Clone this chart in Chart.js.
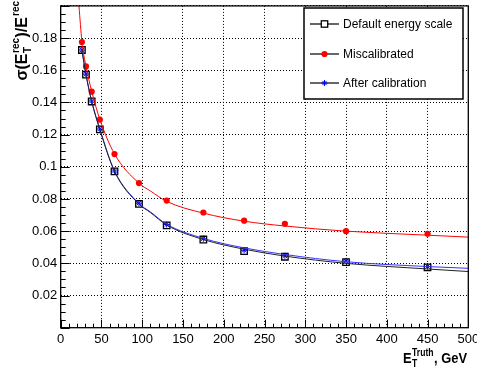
<!DOCTYPE html>
<html>
<head>
<meta charset="utf-8">
<script src="https://cdn.jsdelivr.net/npm/chart.js@4.4.0/dist/chart.umd.min.js"></script>
<style>
html, body { margin: 0; padding: 0; background: #fff; }
canvas { display: block; }
</style>
</head>
<body>
<canvas id="c" width="477" height="371"></canvas>
<script>
// measured points
const pointX = [26, 31, 38, 48, 66, 96, 130, 175, 225, 275, 350, 450];
const defaultScale = [0.1726, 0.1573, 0.1406, 0.1232, 0.0971, 0.0770, 0.0636, 0.0548, 0.0476, 0.0441, 0.0408, 0.0375];
const miscalibrated = [0.1775, 0.1624, 0.1467, 0.1293, 0.1079, 0.0899, 0.0790, 0.0716, 0.0665, 0.0646, 0.0600, 0.0584];
const afterCalib = [0.1726, 0.1576, 0.1409, 0.1235, 0.0974, 0.0774, 0.0641, 0.0553, 0.0481, 0.0447, 0.0415, 0.0380];

// fitted curves
const fitX = [22.4, 26, 31, 38, 48, 66, 96, 110, 130, 175, 225, 275, 350, 450, 500];
const redFit = [0.2, 0.178, 0.1625, 0.147, 0.1295, 0.108, 0.0898, 0.0850, 0.0785, 0.0712, 0.0662, 0.0632, 0.0600, 0.0575, 0.0563];
const blackFit = [null, 0.1726, 0.1573, 0.1406, 0.1232, 0.0971, 0.0768, 0.0716, 0.0638, 0.0548, 0.0488, 0.0445, 0.0400, 0.0365, 0.0349];
const blueFit = [null, 0.1726, 0.1575, 0.1408, 0.1235, 0.0975, 0.0772, 0.0720, 0.0643, 0.0555, 0.0496, 0.0455, 0.0410, 0.0380, 0.0369];

const xTicksStep = 50;
const yTicksStep = 0.02;
const legendLabels = ['Default energy scale', 'Miscalibrated', 'After calibration'];

const FONT = "'Liberation Sans', Arial, Helvetica, sans-serif";

function pairs(xs, ys) {
    const out = [];
    xs.forEach((x, i) => { if (ys[i] !== null) out.push({ x: x, y: ys[i] }); });
    return out;
}

function curve(data, color) {
    return {
        data: data,
        showLine: true,
        borderColor: color,
        borderWidth: 1,
        pointRadius: 0,
        cubicInterpolationMode: 'monotone',
        fill: false
    };
}

const markerSets = [
    { data: pairs(pointX, defaultScale), showLine: false, pointStyle: 'rect', pointRadius: 4.6, borderColor: '#000', borderWidth: 1.3, backgroundColor: 'rgba(0,0,0,0)' },
    { data: pairs(pointX, miscalibrated), showLine: false, pointStyle: 'circle', pointRadius: 3.1, borderColor: '#ff0000', borderWidth: 0, backgroundColor: '#ff0000' },
    { data: pairs(pointX, afterCalib), showLine: false, pointStyle: 'star', pointRadius: 3, borderColor: '#0000ff', borderWidth: 1, backgroundColor: '#0000ff' }
];

function line(ctx, x1, y1, x2, y2) {
    ctx.beginPath();
    ctx.moveTo(x1, y1);
    ctx.lineTo(x2, y2);
    ctx.stroke();
}

const decorPlugin = {
    id: 'decor',
    afterDraw(chart) {
        const ctx = chart.ctx;
        const xs = chart.scales.x, ys = chart.scales.y;
        const { left, right, top, bottom } = chart.chartArea;
        ctx.save();
        ctx.strokeStyle = '#000';
        ctx.lineWidth = 1;
        // inward ticks
        for (let v = 0; v <= 500; v += 10) {
            const px = Math.round(xs.getPixelForValue(v)) + 0.5;
            const len = v % 50 === 0 ? 8 : 4;
            line(ctx, px, bottom, px, bottom - len);
        }
        for (let i = 0; i <= 40; i++) {
            const py = Math.round(ys.getPixelForValue(i * 0.005)) + 0.5;
            const len = i % 4 === 0 ? 9 : 5;
            line(ctx, left, py, left + len, py);
        }
        // frame
        ctx.lineWidth = 1.3;
        ctx.strokeRect(left, top, right - left, bottom - top);

        // legend
        const lx = 304, ly = 8, lw = 159, lh = 91;
        ctx.fillStyle = '#fff';
        ctx.fillRect(lx, ly, lw, lh);
        ctx.lineWidth = 1.5;
        ctx.strokeRect(lx, ly, lw, lh);
        const rows = [24, 54, 83];
        legendLabels.forEach((label, i) => {
            const y = rows[i];
            const m = markerSets[i];
            ctx.strokeStyle = '#000';
            ctx.lineWidth = 1.2;
            line(ctx, 310, y, 339, y);
            ctx.save();
            ctx.fillStyle = m.backgroundColor === 'rgba(0,0,0,0)' ? '#fff' : m.backgroundColor;
            ctx.strokeStyle = m.borderColor;
            ctx.lineWidth = m.borderWidth;
            if (m.pointStyle === 'rect') {
                ctx.fillRect(321.3, y - 3.2, 6.4, 6.4);
                ctx.strokeRect(321.3, y - 3.2, 6.4, 6.4);
            } else if (m.pointStyle === 'circle') {
                ctx.beginPath(); ctx.arc(324.5, y, m.pointRadius, 0, Math.PI * 2); ctx.fill();
            } else {
                Chart.helpers.drawPoint(ctx, { pointStyle: 'star', radius: 3, borderWidth: 1, rotation: 0 }, 324.5, y);
            }
            ctx.restore();
            ctx.fillStyle = '#000';
            ctx.font = '12px ' + FONT;
            ctx.textBaseline = 'middle';
            ctx.textAlign = 'left';
            ctx.fillText(label, 343, y + 0.5);
        });

        // x title: E_T^Truth, GeV (right aligned)
        ctx.fillStyle = '#000';
        ctx.textBaseline = 'alphabetic';
        ctx.textAlign = 'left';
        const big = 'bold 15px ' + FONT, small = 'bold 10px ' + FONT;
        ctx.save();
        ctx.translate(467, 363);
        ctx.scale(0.86, 1);
        ctx.font = big; const wE = ctx.measureText('E').width; const wRest = ctx.measureText(', GeV').width;
        ctx.font = small; const wS = Math.max(ctx.measureText('Truth').width, ctx.measureText('T').width);
        let x0 = -(wE + wS + wRest + 1);
        ctx.font = big; ctx.fillText('E', x0, 0);
        ctx.font = small; ctx.fillText('T', x0 + wE + 0.5, 4); ctx.fillText('Truth', x0 + wE + 0.5, -7);
        ctx.font = big; ctx.fillText(', GeV', x0 + wE + wS + 1, 0);
        ctx.restore();

        // y title: sigma(E_T^rec)/E^rec, rotated, right aligned at top
        ctx.save();
        ctx.translate(27, 0);
        ctx.rotate(-Math.PI / 2);
        const ybig = 'bold 16px ' + FONT, ysmall = 'bold 10px ' + FONT;
        ctx.font = ybig;
        const w1 = ctx.measureText('\u03c3(E').width, w3 = ctx.measureText(')/E').width;
        ctx.font = ysmall;
        const w2 = Math.max(ctx.measureText('rec').width, ctx.measureText('T').width) + 1;
        const w4 = ctx.measureText('rec').width;
        let s = -(w1 + w2 + w3 + w4 + 2);
        ctx.font = ybig; ctx.fillText('\u03c3(E', s, 0);
        ctx.font = ysmall; ctx.fillText('T', s + w1 + 0.5, 4); ctx.fillText('rec', s + w1 + 0.5, -8);
        ctx.font = ybig; ctx.fillText(')/E', s + w1 + w2, 0);
        ctx.font = ysmall; ctx.fillText('rec', s + w1 + w2 + w3 + 1, -8);
        ctx.restore();

        ctx.restore();
    }
};

new Chart(document.getElementById('c').getContext('2d'), {
    type: 'scatter',
    data: {
        datasets: [
            curve(pairs(fitX, blackFit), '#222222'),
            curve(pairs(fitX, redFit), '#ff0000'),
            curve(pairs(fitX, blueFit), '#3333ff'),
            markerSets[0],
            markerSets[1],
            markerSets[2]
        ]
    },
    options: {
        responsive: false,
        animation: false,
        layout: { padding: { top: 1.5, right: 8.7, left: 0, bottom: 0 } },
        plugins: { legend: { display: false }, tooltip: { enabled: false } },
        scales: {
            x: {
                type: 'linear',
                min: 0,
                max: 500,
                afterFit: s => { s.height = 43.3; s.paddingLeft = 0; s.paddingRight = 0; },
                ticks: {
                    stepSize: xTicksStep,
                    color: '#000',
                    font: { family: FONT, size: 13 },
                    padding: 4,
                    maxRotation: 0,
                    callback: v => String(v)
                },
                grid: { color: '#000', lineWidth: 1, drawTicks: false },
                border: { display: false, dash: [1, 2] }
            },
            y: {
                min: 0,
                max: 0.2,
                afterFit: s => { s.width = 60.7; s.paddingTop = 0; s.paddingBottom = 0; },
                ticks: {
                    stepSize: yTicksStep,
                    color: '#000',
                    font: { family: FONT, size: 13 },
                    padding: 3.5,
                    callback: v => (v < 0.001 || v > 0.199) ? '' : String(parseFloat(v.toFixed(2)))
                },
                grid: { color: '#000', lineWidth: 1, drawTicks: false },
                border: { display: false, dash: [1, 2] }
            }
        }
    },
    plugins: [decorPlugin]
});
</script>
</body>
</html>
